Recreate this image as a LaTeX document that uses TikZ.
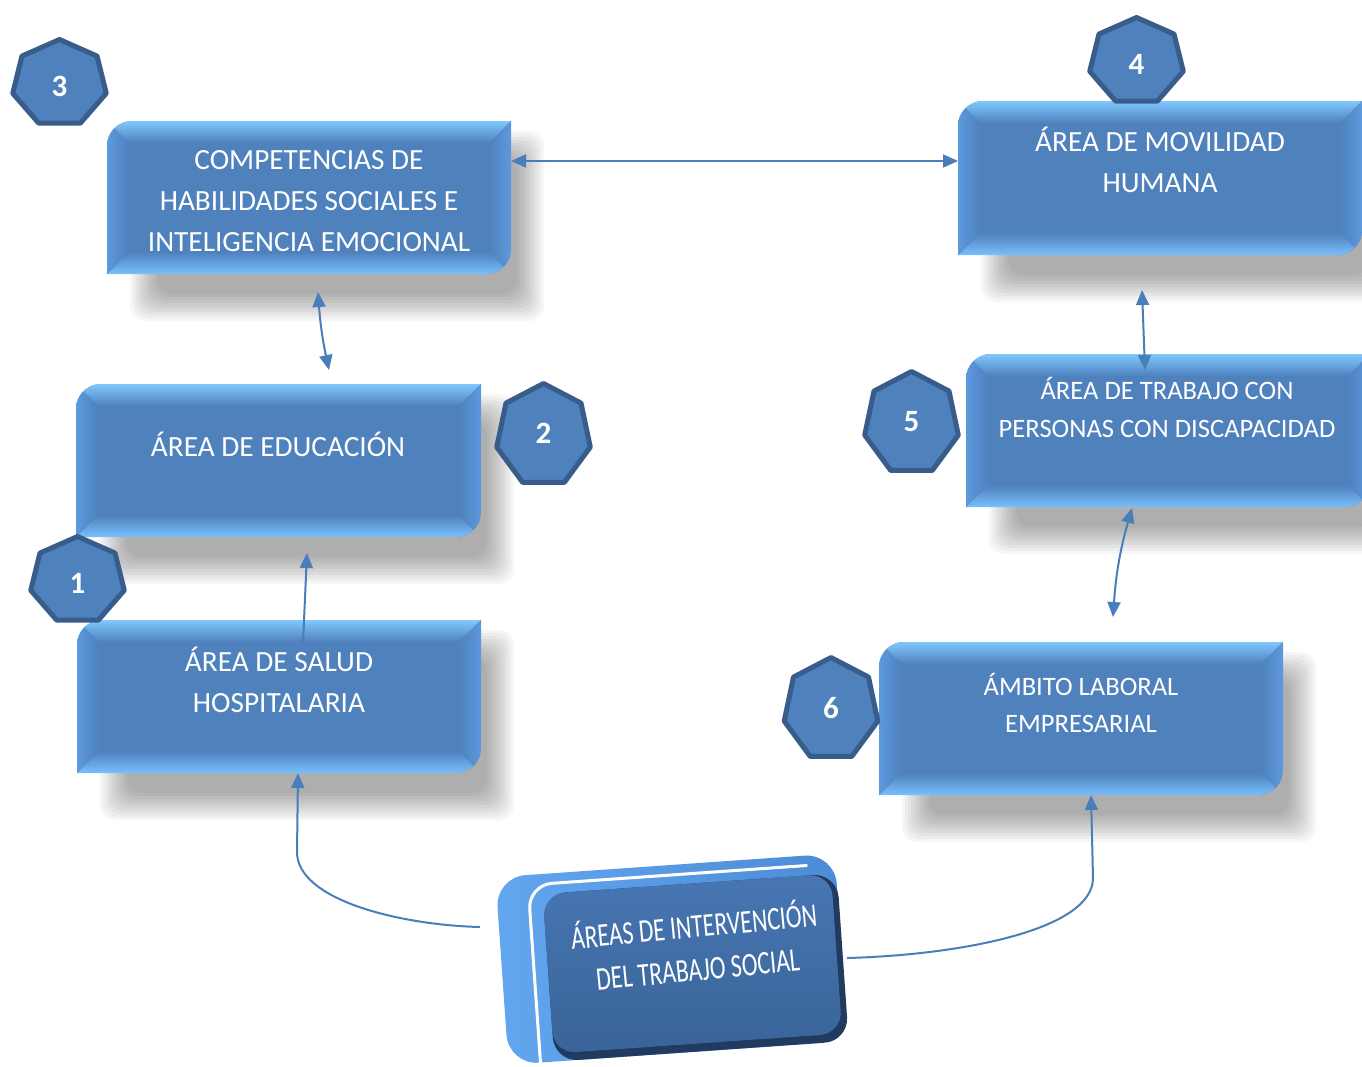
\documentclass[tikz,border=0pt]{standalone}
\usepackage{fontspec}
\setmainfont{Carlito}
\usetikzlibrary{arrows.meta,calc}
\definecolor{face}{HTML}{4F81BD}
\definecolor{hepline}{HTML}{385D8A}
\definecolor{conncol}{HTML}{4A7EBB}
\definecolor{bevtop}{HTML}{80C8FF}
\definecolor{bevbot}{HTML}{78C0FC}
\definecolor{bevside}{HTML}{5D99DE}
\definecolor{cout1}{HTML}{62A6F0}
\definecolor{cout2}{HTML}{4C8AD6}
\definecolor{cface1}{HTML}{4776B3}
\definecolor{cface2}{HTML}{3A6498}
\definecolor{cdark}{HTML}{203A60}

\tikzset{
  tri/.tip={Triangle[length=15pt,width=13pt]},
  conn/.style={draw=conncol, line width=2pt},
  boxnode/.style={minimum width=404pt, minimum height=153pt, inner sep=0pt, outer sep=0pt},
  boxtext/.style={text=white, align=center, inner sep=0pt, font=\fontsize{29.3}{41}\selectfont},
  smalltext/.style={boxtext, font=\fontsize{26.6}{37.5}\selectfont},
  heptstyle/.style={draw=hepline, line width=5pt, fill=face, line join=round},
  heptnum/.style={text=white, inner sep=0pt, font=\fontsize{31}{31}\selectfont\bfseries},
}

\newcommand\boxshadow[4]{%
  \foreach \k in {0,...,9}{%
    \fill[black, opacity=0.036, rounded corners=15pt]
      ({#1+38-15+3*\k},{#2+25-15+3*\k}) rectangle ({#3+18+15-3*\k},{#4+32+15-3*\k});
  }%
}

\newcommand\bevelbox[4]{%
  \begin{scope}
    \clip (#1,{#2+25}) .. controls (#1,{#2+11.2}) and ({#1+11.2},#2) .. ({#1+25},#2)
      -- (#3,#2) -- (#3,{#4-25}) .. controls (#3,{#4-11.2}) and ({#3-11.2},#4) .. ({#3-25},#4)
      -- (#1,#4) -- cycle;
    \fill[face] (#1,#2) rectangle (#3,#4);
    \shade[top color=bevtop, bottom color=face] (#1,#2) -- (#3,#2) -- ({#3-22},{#2+22}) -- ({#1+22},{#2+22}) -- cycle;
    \shade[top color=face, bottom color=bevbot] (#1,#4) -- (#3,#4) -- ({#3-22},{#4-22}) -- ({#1+22},{#4-22}) -- cycle;
    \shade[left color=bevside, right color=face] (#1,#2) -- ({#1+22},{#2+22}) -- ({#1+22},{#4-22}) -- (#1,#4) -- cycle;
    \shade[left color=face, right color=bevside] (#3,#2) -- ({#3-22},{#2+22}) -- ({#3-22},{#4-22}) -- (#3,#4) -- cycle;
  \end{scope}%
}

% name, cx, cy, vertical radius, number, number y
\newcommand\hepta[6]{%
  \draw[heptstyle] plot[samples=8, domain=0:7] ({#2+48*cos(90+\x*360/7)},{#3-#4*sin(90+\x*360/7)}) -- cycle;
  \node[heptnum] (#1) at (#2,#6) {#5};
}

\begin{document}
\begin{tikzpicture}[x=1pt,y=-1pt]
\useasboundingbox (0,0) rectangle (1362,1066);
\clip (0,0) rectangle (1362,1066);
\fill[white] (0,0) rectangle (1362,1066);

% shadows
\boxshadow{107}{121}{511}{274}
\boxshadow{958}{101}{1362}{255}
\boxshadow{76}{384}{481}{537}
\boxshadow{77}{620}{481}{773}
\boxshadow{966}{354}{1370}{507}
\boxshadow{879}{642}{1283}{795}

% boxes
\bevelbox{107}{121}{511}{274}
\node[boxnode] (b3) at (309,197.5) {};
\node[boxtext] (b3t) at (309,201.5) {COMPETENCIAS DE\\HABILIDADES SOCIALES E\\INTELIGENCIA EMOCIONAL};

\bevelbox{958}{101}{1362}{255}
\node[boxnode] (b4) at (1160,178) {};
\node[boxtext] (b4t) at (1160,159.5) {ÁREA DE MOVILIDAD\\HUMANA};

\bevelbox{76}{384}{481}{537}
\node[boxnode] (edu) at (278.5,460.5) {};
\node[boxtext] (edut) at (278,444) {ÁREA DE EDUCACIÓN};

\bevelbox{77}{620}{481}{773}
\node[boxnode] (sal) at (279,696.5) {};
\node[boxtext] (salt) at (279,680) {ÁREA DE SALUD\\HOSPITALARIA};

\bevelbox{966}{354}{1370}{507}
\node[boxnode] (dis) at (1168,430.5) {};
\node[smalltext] (dist) at (1167,407.5) {ÁREA DE TRABAJO CON\\PERSONAS CON DISCAPACIDAD};

\bevelbox{879}{642}{1283}{795}
\node[boxnode] (lab) at (1081,718.5) {};
\node[smalltext] (labt) at (1081,703) {ÁMBITO LABORAL\\EMPRESARIAL};

% central 3D box
\begin{scope}[shift={(674,965)}, rotate=4]
  \shade[left color=cout1, right color=cout2, rounded corners=30pt] (-172,-100) rectangle (168,88);
  \fill[cdark, rounded corners=24pt] (-126,-80) rectangle (169,88);
  \shade[top color=cface1, bottom color=cface2, rounded corners=22pt] (-126,-80) rectangle (163,80);
  \draw[white, line width=3pt, rounded corners=24pt] (-140,110) -- (-140,-90) -- (140,-90);
  \node[boxtext, font=\fontsize{33}{43}\selectfont, rotate=5.5, xscale=0.72] (central) at (23,-18) {ÁREAS DE INTERVENCIÓN\\DEL TRABAJO SOCIAL};
\end{scope}

% heptagons
\hepta{h3}{59.5}{83.5}{44}{3}{86.5}
\hepta{h4}{1136.5}{61.5}{44}{4}{64}
\hepta{h1}{77.5}{580.5}{44}{1}{583}
\hepta{h2}{543.5}{435.5}{52}{2}{433}
\hepta{h5}{911.5}{423.5}{52}{5}{422}
\hepta{h6}{831}{709.5}{52}{6}{708}

% connector end points
\coordinate (p3a) at (318,292);
\coordinate (p3b) at (329,370);
\coordinate (pea) at (303,643);
\coordinate (peb) at (307,553);
\coordinate (p4a) at (1142,290);
\coordinate (p4b) at (1145,370);
\coordinate (p5a) at (1132,508);
\coordinate (p5b) at (1113,617);
\coordinate (cl) at (480,927);
\coordinate (cr) at (847,958);

% connectors
\draw[conn, tri-tri] ([yshift=36.5pt]b3.east) -- ([yshift=36.5pt]b3.east -| b4.west);
\draw[conn, tri-tri] (p3a) to[bend right=4] (p3b);
\draw[conn, -tri] (pea) -- (peb);
\draw[conn, tri-tri] (p4a) -- (p4b);
\draw[conn, tri-tri] (p5a) to[bend right=6] (p5b);
\draw[conn, -tri] (cl) .. controls (400,925) and (297,900) .. (297,852) -- ([xshift=19pt]sal.south);
\draw[conn, -tri] (cr) .. controls (960,955) and (1093,930) .. (1093,878) -- ([xshift=10pt]lab.south);
\end{tikzpicture}
\end{document}
